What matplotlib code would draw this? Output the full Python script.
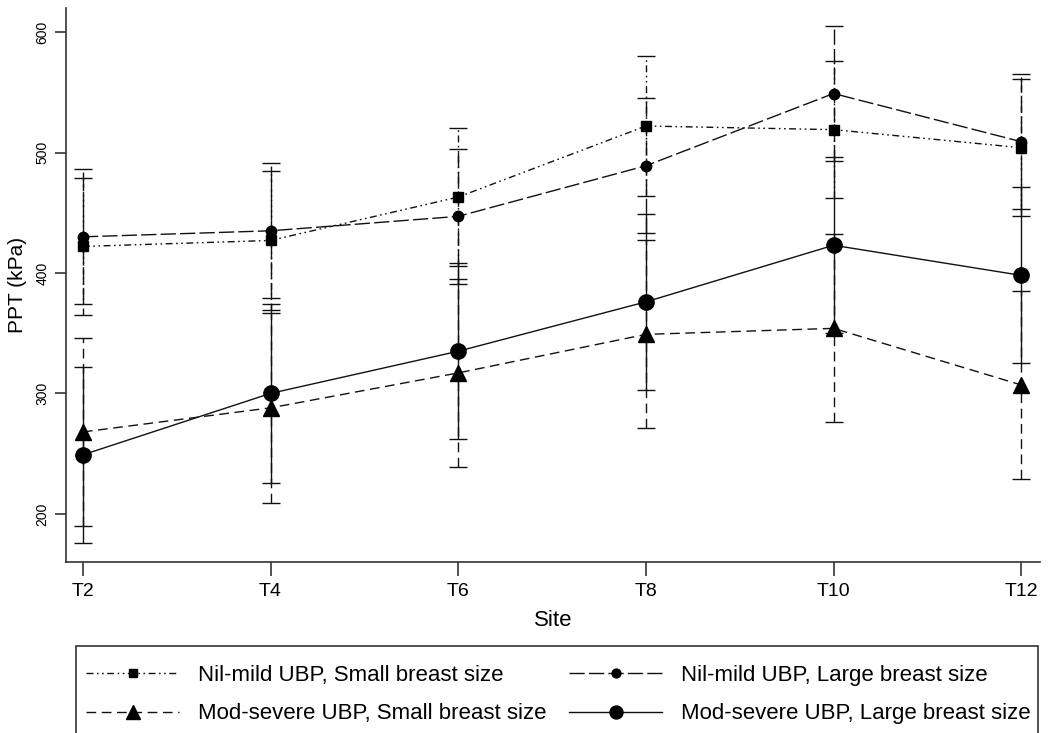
import matplotlib
matplotlib.use("Agg")
import matplotlib.pyplot as plt
from matplotlib.patches import Rectangle
from matplotlib.lines import Line2D

plt.rcParams['font.family'] = ['Liberation Sans', 'DejaVu Sans']

sites = ["T2", "T4", "T6", "T8", "T10", "T12"]
yticks = [200, 300, 400, 500, 600]

nil_small = [422, 427, 463, 522, 519, 504]
nil_small_err = [57, 58, 57, 58, 57, 57]
nil_large = [430, 435, 447, 489, 549, 509]
nil_large_err = [56, 56, 56, 56, 56, 56]
mod_small = [268, 288, 317, 349, 354, 307]
mod_small_err = [78, 79, 78, 78, 78, 78]
mod_large = [249, 300, 335, 376, 423, 398]
mod_large_err = [73, 74, 73, 73, 73, 73]

labels = ["Nil-mild UBP, Small breast size", "Nil-mild UBP, Large breast size",
          "Mod-severe UBP, Small breast size", "Mod-severe UBP, Large breast size"]

W, H = 1048, 733
fig = plt.figure(figsize=(W / 100, H / 100), dpi=100)
ax = fig.add_axes([66 / W, 1 - 562 / H, (1040 - 66) / W, (562 - 8) / H])

col = "#111111"
x = list(range(len(sites)))

series = [
    (nil_small, nil_small_err, 's', 7.5, (0, (5, 2.5, 1.2, 2.5, 1.2, 2.5))),
    (nil_large, nil_large_err, 'o', 7.5, (0, (11, 3))),
    (mod_small, mod_small_err, '^', 12, (0, (7, 4))),
    (mod_large, mod_large_err, 'o', 11, '-'),
]

handles = []
for (vals, err, mk, ms, ls), lab in zip(series, labels):
    eb = ax.errorbar(x, vals, yerr=err, fmt='none', ecolor=col, elinewidth=1.0,
                     capsize=6.5, capthick=1.0, zorder=2)
    eb[2][0].set_linestyle(ls)
    ax.plot(x, vals, color=col, linestyle=ls, linewidth=1.0, zorder=3)
    ax.plot(x, vals, linestyle='none', marker=mk, markersize=ms, color='black', zorder=4)
    handles.append(Line2D([], [], color=col, linestyle=ls, linewidth=1.0,
                          marker=mk, markersize=ms * 0.85, markerfacecolor='black',
                          markeredgecolor='black'))

ax.set_xlim(-0.09, 5.1)
ax.set_ylim(160, 620)
ax.set_xticks(x)
ax.set_xticklabels(sites, fontsize=14)
ax.set_yticks(yticks)
ax.set_yticklabels([str(v) for v in yticks], fontsize=10, rotation=90, va='center')
ax.spines['top'].set_visible(False)
ax.spines['right'].set_visible(False)
for s in ['left', 'bottom']:
    ax.spines[s].set_color('#333333')
    ax.spines[s].set_linewidth(1.2)
ax.tick_params(axis='both', direction='out', color='#333333', width=1.2)
ax.tick_params(axis='y', length=8, pad=4)
ax.tick_params(axis='x', length=10, pad=5)
ax.set_xlabel("Site", fontsize=16, labelpad=7)
ax.set_ylabel("PPT (kPa)", fontsize=15, labelpad=6)

# legend frame (extends past the bottom edge like the reference)
fig.patches.append(Rectangle((76 / W, -0.05), (1038 - 76) / W, (1 - 646 / H) + 0.05,
                             transform=fig.transFigure, fill=False,
                             edgecolor='#333333', linewidth=1.2))
order = [0, 2, 1, 3]
fig.legend([handles[i] for i in order], [labels[i] for i in order],
           loc='upper left', bbox_to_anchor=(86 / W, 1 - 665 / H),
           ncol=2, frameon=False, fontsize=16, handlelength=4.2, handletextpad=0.85,
           columnspacing=1.0, labelspacing=0.78, borderpad=0.0, borderaxespad=0.0)

fig.savefig("out.png", dpi=100)
